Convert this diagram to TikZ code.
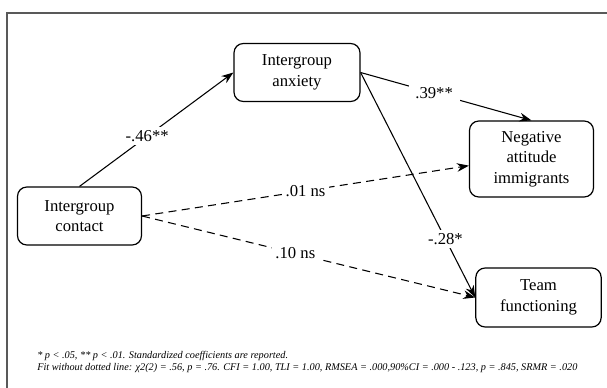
\documentclass[tikz,border=0pt]{standalone}
\usepackage{fontspec}
\setmainfont{Liberation Serif}
\usetikzlibrary{arrows.meta}

\begin{document}
\begin{tikzpicture}[x=0.75pt,y=-0.75pt,font=\fontsize{12.5}{15.5}\selectfont,>={Stealth[length=9pt,width=6.5pt]},
  var/.style={draw,line width=0.9pt,rounded corners=7pt,minimum width=93pt,minimum height=43.5pt,align=center,inner sep=0pt},
  lab/.style={fill=white,inner sep=2.5pt},
  ns/.style={->,line width=0.8pt,dash pattern=on 6pt off 4pt}]
  \useasboundingbox (0,0) rectangle (607,388);
  \draw[line width=1.5pt,black!65] (6.5,388) -- (6.5,13) -- (607,13);
  \node[var] (cont) at (79.5,216) {Intergroup\\ contact};
  \node[var,minimum width=94.5pt] (anx) at (297,72.5) {Intergroup\\ anxiety};
  \node[var,minimum height=57pt] (neg) at (531.5,159) {Negative\\ attitude\\ immigrants};
  \node[var,minimum width=94pt,minimum height=44.25pt] (team) at (538.5,297.5) {Team\\ functioning};
  \draw[->,line width=0.8pt] (cont.north) -- node[lab,pos=.44]{-.46**} (anx.west);
  \draw[->,line width=0.8pt] (anx.east) -- node[lab,pos=.43,inner xsep=5pt]{.39**} (neg.north);
  \draw[->,line width=0.8pt] (anx.east) -- node[lab,pos=.74]{-.28*} (team.west);
  \draw[ns] (cont.east) -- node[lab,pos=.5]{.01 ns} ([yshift=-5pt]neg.west);
  \draw[ns] (cont.east) -- node[lab,pos=.46]{.10 ns} (team.west);
  \node[anchor=north west,align=left,inner sep=0pt,font=\fontsize{7.7}{9.2}\selectfont\itshape] (note) at (37,351)
    {* p < .05, ** p < .01. Standardized coefficients are reported.\\
     Fit without dotted line: χ2(2) = .56, p = .76. CFI = 1.00, TLI = 1.00, RMSEA = .000,90\%CI = .000 - .123, p = .845, SRMR = .020};
\end{tikzpicture}
\end{document}
